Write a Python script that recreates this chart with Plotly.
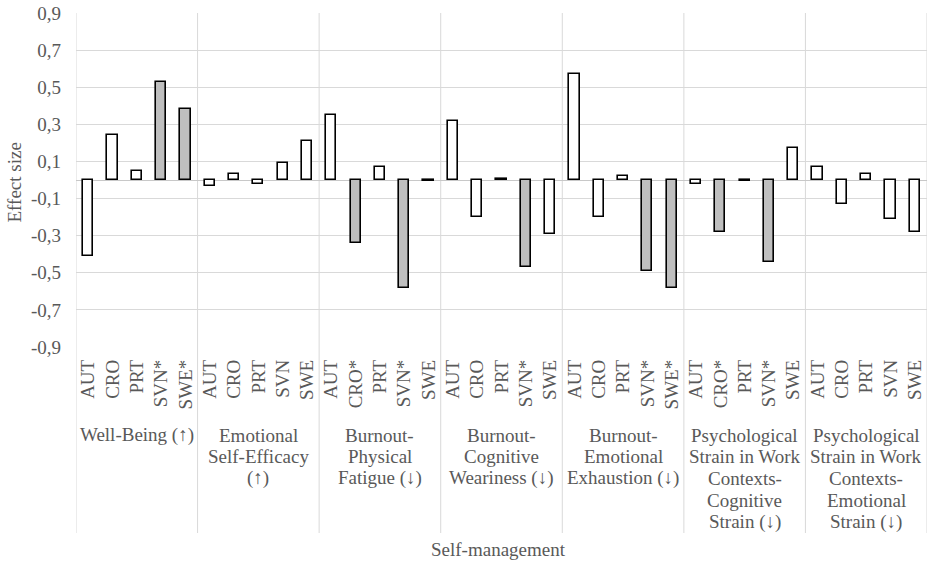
import plotly.graph_objects as go

# ---------------- data ----------------
group_lines = [
    ["Well-Being (↑)"],
    ["Emotional", "Self-Efficacy", "(↑)"],
    ["Burnout-", "Physical", "Fatigue (↓)"],
    ["Burnout-", "Cognitive", "Weariness (↓)"],
    ["Burnout-", "Emotional", "Exhaustion (↓)"],
    ["Psychological", "Strain in Work", "Contexts-", "Cognitive", "Strain (↓)"],
    ["Psychological", "Strain in Work", "Contexts-", "Emotional", "Strain (↓)"],
]
countries = [
    ["AUT", "CRO", "PRT", "SVN*", "SWE*"],
    ["AUT", "CRO", "PRT", "SVN", "SWE"],
    ["AUT", "CRO*", "PRT", "SVN*", "SWE"],
    ["AUT", "CRO", "PRT", "SVN*", "SWE"],
    ["AUT", "CRO", "PRT", "SVN*", "SWE*"],
    ["AUT", "CRO*", "PRT", "SVN*", "SWE"],
    ["AUT", "CRO", "PRT", "SVN", "SWE"],
]
well_being = [-0.41, 0.24, 0.05, 0.53, 0.38]
emotional_self_efficacy = [-0.03, 0.03, -0.02, 0.09, 0.21]
burnout_physical_fatigue = [0.35, -0.34, 0.07, -0.58, -0.005]
burnout_cognitive_weariness = [0.32, -0.20, 0.006, -0.47, -0.29]
burnout_emotional_exhaustion = [0.57, -0.20, 0.02, -0.49, -0.58]
strain_cognitive = [-0.02, -0.28, -0.005, -0.44, 0.17]
strain_emotional = [0.07, -0.13, 0.03, -0.21, -0.28]
series = [well_being, emotional_self_efficacy, burnout_physical_fatigue,
          burnout_cognitive_weariness, burnout_emotional_exhaustion,
          strain_cognitive, strain_emotional]
y_ticks = [-0.9, -0.7, -0.5, -0.3, -0.1, 0.1, 0.3, 0.5, 0.7, 0.9]

# ---------------- build ----------------
labels, values = [], []
for c, v in zip(countries, series):
    labels += c
    values += v
xs = list(range(len(labels)))
fills = ["#bfbfbf" if l.endswith("*") else "#ffffff" for l in labels]

FONT = "Liberation Serif, Times New Roman, serif"
TXT = "#595959"
GRID = "#d9d9d9"
FS = 19

W, H = 929, 564
ML, MR, MT, MB = 76, 2, 13, 217
PH = H - MT - MB
PW = W - ML - MR
BOTTOM_PX = H - MB


def py(ypx):
    return (BOTTOM_PX - ypx) / PH


fig = go.Figure()
fig.add_trace(go.Bar(
    x=xs, y=values, width=0.42,
    marker=dict(color=fills, line=dict(color="#000000", width=1.6)),
    showlegend=False, hoverinfo="skip",
))

shapes = []
n_groups = len(countries)
for g in range(n_groups + 1):
    xb = g * 5 - 0.5
    shapes.append(dict(type="line", xref="x", yref="paper", x0=xb, x1=xb,
                       y0=py(533), y1=1, line=dict(color=GRID, width=1),
                       layer="below"))

annotations = []
for g, lines in enumerate(group_lines):
    for k, line in enumerate(lines):
        annotations.append(dict(
            x=g * 5 + 2, xref="x", y=py(435 + k * 21.7), yref="paper",
            text=line, showarrow=False, xanchor="center", yanchor="middle",
            font=dict(family=FONT, size=FS, color=TXT)))
annotations.append(dict(
    x=(498.5 - ML) / PW, xref="paper", y=py(549), yref="paper",
    text="Self-management", showarrow=False, xanchor="center", yanchor="middle",
    font=dict(family=FONT, size=FS, color=TXT)))
annotations.append(dict(
    x=(13.5 - ML) / PW, xref="paper", y=py(183), yref="paper",
    text="Effect size", showarrow=False, textangle=-90,
    xanchor="center", yanchor="middle",
    font=dict(family=FONT, size=FS, color=TXT)))

fig.update_layout(
    width=W, height=H,
    margin=dict(l=ML, r=MR, t=MT, b=MB),
    paper_bgcolor="white", plot_bgcolor="white",
    bargap=0,
    shapes=shapes, annotations=annotations,
    font=dict(family=FONT, size=FS, color=TXT),
    xaxis=dict(
        range=[-0.5, len(labels) - 0.5],
        tickvals=xs, ticktext=labels, tickangle=-90,
        showgrid=False, zeroline=False, showline=False,
        ticks="", ticklabelstandoff=8,
        tickfont=dict(family=FONT, size=FS, color=TXT),
    ),
    yaxis=dict(
        range=[-0.9, 0.9],
        tickvals=y_ticks,
        ticktext=[f"{v:.1f}".replace(".", ",") for v in y_ticks],
        showgrid=True, gridcolor=GRID, gridwidth=1,
        zeroline=True, zerolinecolor="#c8c8c8", zerolinewidth=1,
        showline=False, ticks="", ticklabelstandoff=14,
        tickfont=dict(family=FONT, size=FS, color=TXT),
    ),
)

fig.write_html(
    "out.html",
    config={"displayModeBar": False},
    post_script="document.body.style.margin='0';document.body.style.overflow='hidden';",
)
